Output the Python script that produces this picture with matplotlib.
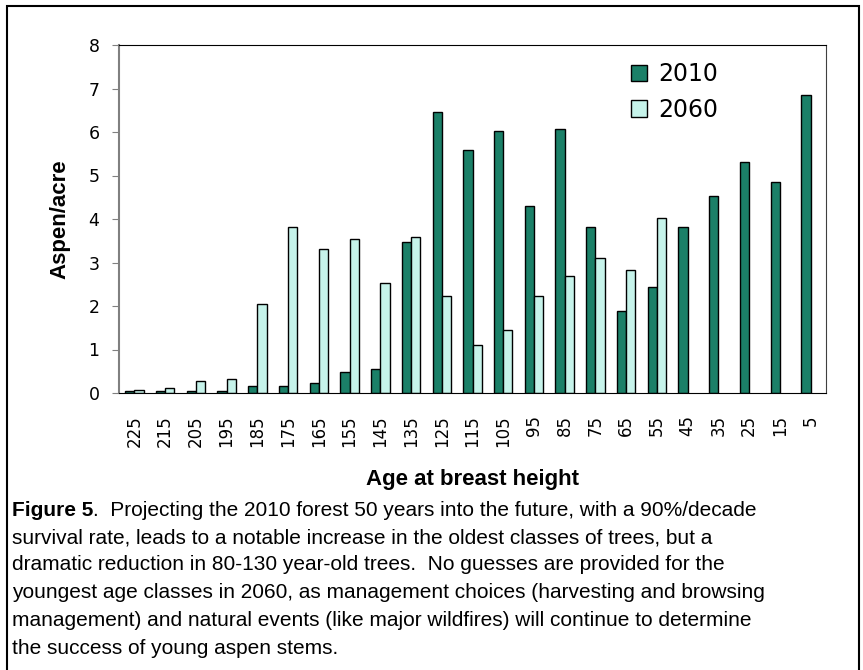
import matplotlib
matplotlib.use('Agg')
import matplotlib.pyplot as plt
import numpy as np
from matplotlib.patches import Rectangle

# data
ages = ['225', '215', '205', '195', '185', '175', '165', '155', '145', '135', '125', '115',
        '105', '95', '85', '75', '65', '55', '45', '35', '25', '15', '5']
y2010 = [0.05, 0.05, 0.05, 0.05, 0.15, 0.15, 0.24, 0.48, 0.55, 3.47, 6.46, 5.59,
         6.03, 4.29, 6.07, 3.82, 1.89, 2.44, 3.82, 4.53, 5.32, 4.85, 6.85]
y2060 = [0.08, 0.12, 0.28, 0.32, 2.04, 3.82, 3.30, 3.54, 2.52, 3.58, 2.24, 1.10,
         1.45, 2.24, 2.68, 3.11, 2.83, 4.02, 0, 0, 0, 0, 0]
series = ['2010', '2060']

dark = '#1B8068'
light = '#C6F3EA'
fam = ['Liberation Sans', 'DejaVu Sans']

plt.rcParams['font.family'] = ['DejaVu Sans']

fig = plt.figure(figsize=(8.63, 6.7), dpi=100)
ax = fig.add_axes([119/863, 1 - 393/670, (826-119)/863, (393-45)/670])

x = np.arange(len(ages))
w = 0.3
ax.bar(x - w/2, y2010, w, color=dark, edgecolor='black', linewidth=1.0, label=series[0])
m = np.array(y2060) > 0
ax.bar(x[m] + w/2, np.array(y2060)[m], w, color=light, edgecolor='black', linewidth=1.0, label=series[1])

ax.set_xlim(-0.5, len(ages) - 0.5)
ax.set_ylim(0, 8)
ax.set_yticks(range(0, 9))
ax.set_xticks(x)
ax.set_xticklabels(ages, rotation=90, fontsize=12)
ax.tick_params(axis='x', length=0, pad=16)
ax.tick_params(axis='y', length=5, color='#808080', labelsize=12.5, pad=9)
ax.spines['left'].set_color('#808080')
ax.spines['left'].set_linewidth(1.5)
ax.spines['bottom'].set_color('black')
ax.spines['top'].set_color('black')
ax.spines['right'].set_color('#404040')

ax.set_ylabel('Aspen/acre', fontsize=16, fontweight='bold', family=fam, labelpad=13)
ax.set_xlabel('Age at breast height', fontsize=16, fontweight='bold', family=fam, labelpad=16)

leg = ax.legend(loc='upper left', bbox_to_anchor=(0.694, 1.012), frameon=False, fontsize=17,
                handlelength=0.7, handleheight=0.7, handletextpad=0.45, labelspacing=0.5)

# outer frame
fig.patches.append(Rectangle((7/863, -0.01), (859-7)/863, 1 - 6/670 + 0.01,
                             transform=fig.transFigure, fill=False, edgecolor='black', linewidth=1.5))

# caption
cap_lines = [
    '.  Projecting the 2010 forest 50 years into the future, with a 90%/decade',
    'survival rate, leads to a notable increase in the oldest classes of trees, but a',
    'dramatic reduction in 80-130 year-old trees.  No guesses are provided for the',
    'youngest age classes in 2060, as management choices (harvesting and browsing',
    'management) and natural events (like major wildfires) will continue to determine',
    'the success of young aspen stems.',
]
fs = 15
x0 = 12/863
ys = [510, 538, 565, 593, 620, 648]
t = fig.text(x0, 1 - ys[0]/670, 'Figure 5', fontsize=fs, fontweight='bold', family=fam, va='center')
fig.canvas.draw()
bb = t.get_window_extent(renderer=fig.canvas.get_renderer())
fig.text(bb.x1 / fig.bbox.width, 1 - ys[0]/670, cap_lines[0], fontsize=fs, family=fam, va='center')
for yy, line in zip(ys[1:], cap_lines[1:]):
    fig.text(x0, 1 - yy/670, line, fontsize=fs, family=fam, va='center')

fig.savefig('out.png', dpi=100)
